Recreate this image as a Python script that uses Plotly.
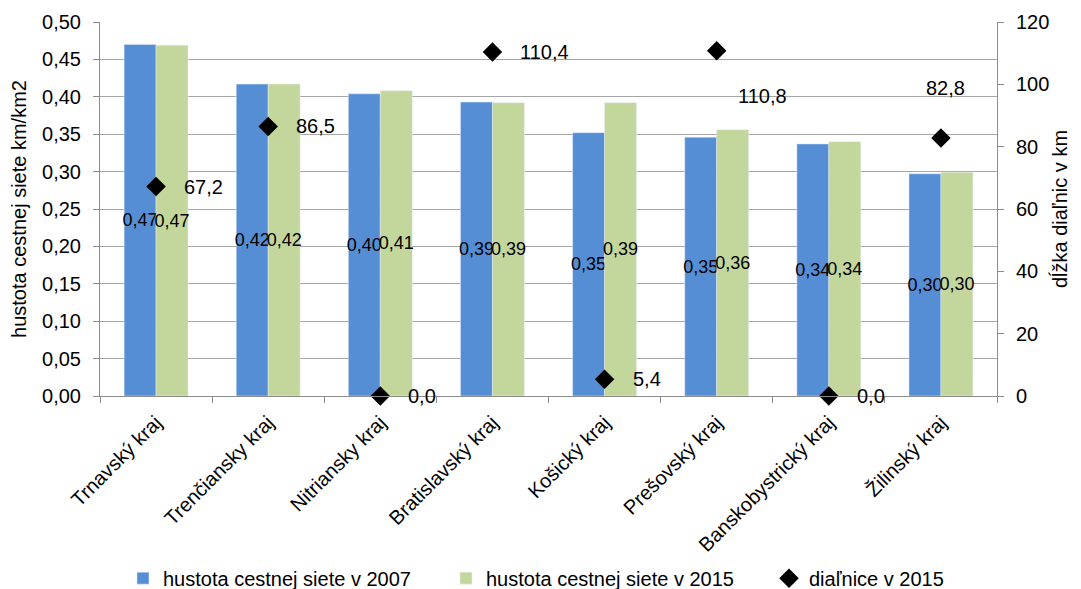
import plotly.graph_objects as go

# ---- data ----
categories = ["Trnavský kraj", "Trenčiansky kraj", "Nitriansky kraj", "Bratislavský kraj",
              "Košický kraj", "Prešovský kraj", "Banskobystrický kraj", "Žilinský kraj"]
hustota_2007 = [0.470, 0.417, 0.404, 0.393, 0.352, 0.346, 0.337, 0.297]
hustota_2015 = [0.469, 0.417, 0.408, 0.392, 0.392, 0.356, 0.340, 0.299]
dialnice_2015 = [67.2, 86.5, 0.0, 110.4, 5.4, 110.8, 0.0, 82.8]

series_names = ["hustota cestnej siete v 2007", "hustota cestnej siete v 2015", "diaľnice v 2015"]
left_title = "hustota cestnej siete km/km2"
right_title = "dĺžka diaľnic v km"

# ---- styling ----
FONT = "Liberation Sans, Arial, sans-serif"
BLUE = "#558ED5"
GREEN = "#C3D69B"
GRID = "#A6A6A6"
AXIS = "#8C8C8C"
# label offsets (pixels) for the motorway labels: (xshift, yshift, xanchor)
label_style = {
    5: (46, -45, "center"),
    7: (5, 50, "center"),
}

fig = go.Figure()
fig.add_trace(go.Bar(
    x=categories, y=hustota_2007, name=series_names[0], marker_color=BLUE,
    texttemplate="%{y:.2f}", textposition="inside", insidetextanchor="middle",
    textangle=0, constraintext="none",
    textfont=dict(family=FONT, size=18, color="black"), yaxis="y",
))
fig.add_trace(go.Bar(
    x=categories, y=hustota_2015, name=series_names[1], marker_color=GREEN,
    texttemplate="%{y:.2f}", textposition="inside", insidetextanchor="middle",
    textangle=0, constraintext="none",
    textfont=dict(family=FONT, size=18, color="black"), yaxis="y",
))
fig.add_trace(go.Scatter(
    x=categories, y=dialnice_2015, name=series_names[2], mode="markers",
    marker=dict(symbol="diamond", size=15, color="black"),
    yaxis="y2", cliponaxis=False,
))

for i, (c, v) in enumerate(zip(categories, dialnice_2015)):
    xs, ys, xa = label_style.get(i, (26, 0, "left"))
    fig.add_annotation(
        x=c, y=v, xref="x", yref="y2", text=f"{v:.1f}".replace(".", ","),
        showarrow=False, xanchor=xa, yanchor="middle", xshift=xs, yshift=ys,
        font=dict(family=FONT, size=20, color="black"),
    )

fig.update_layout(
    width=1081, height=589,
    margin=dict(l=100, r=84, t=22, b=193, autoexpand=False),
    paper_bgcolor="white", plot_bgcolor="white",
    separators=", ",
    font=dict(family=FONT, size=20, color="black"),
    barmode="group", bargap=0.43, bargroupgap=0,
    showlegend=True,
    legend=dict(orientation="h", x=1.1059, xanchor="right", y=-0.487, yanchor="middle",
                font=dict(family=FONT, size=20, color="black"), itemwidth=30,
                entrywidth=278, traceorder="normal"),
    xaxis=dict(
        type="category", showline=True, linecolor=AXIS, linewidth=1,
        ticks="outside", tickson="boundaries", ticklen=6, tickcolor=AXIS,
        tickangle=-45, tickfont=dict(family=FONT, size=20, color="black"),
        ticklabelstandoff=6,
        showgrid=False, automargin=False,
    ),
    yaxis=dict(
        range=[0, 0.5], dtick=0.05, tickformat=".2f",
        showline=True, linecolor=AXIS, linewidth=1,
        ticks="outside", ticklen=6, tickcolor=AXIS, ticklabelstandoff=8,
        showgrid=True, gridcolor=GRID, gridwidth=1, zeroline=False,
        tickfont=dict(family=FONT, size=20, color="black"), automargin=False,
        title=dict(text=left_title, font=dict(family=FONT, size=20, color="black"), standoff=10),
    ),
    yaxis2=dict(
        range=[0, 120], dtick=20, overlaying="y", side="right",
        showline=True, linecolor=AXIS, linewidth=1,
        ticks="outside", ticklen=6, tickcolor=AXIS, ticklabelstandoff=8,
        showgrid=False, zeroline=False, automargin=False,
        tickfont=dict(family=FONT, size=20, color="black"),
        title=dict(text=right_title, font=dict(family=FONT, size=20, color="black"), standoff=4),
    ),
)

fig.write_html("out.html", config={"displayModeBar": False},
               post_script="document.body.style.margin='0';")
